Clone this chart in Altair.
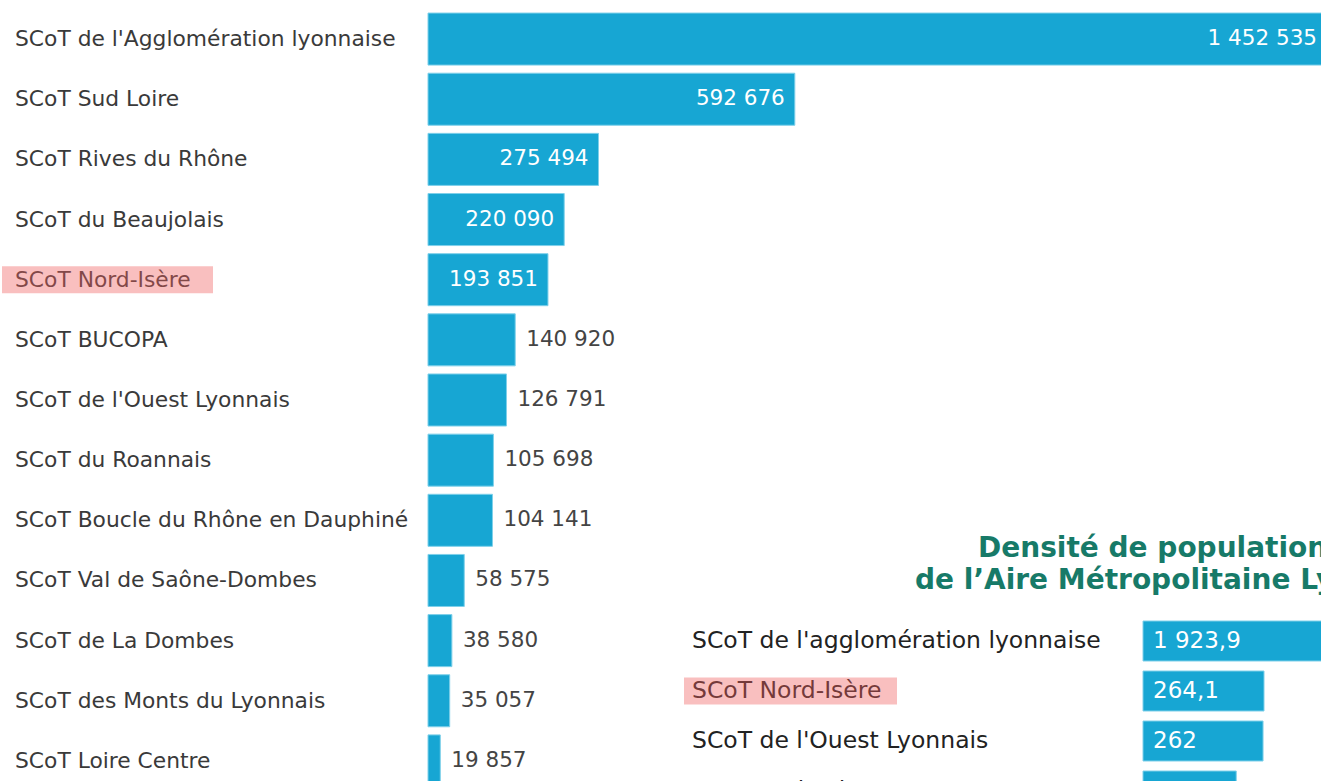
import altair as alt
import pandas as pd

# ---- data: chart 1 (population by SCoT) ----
cats1 = [
    "SCoT de l'Agglomération lyonnaise",
    "SCoT Sud Loire",
    "SCoT Rives du Rhône",
    "SCoT du Beaujolais",
    "SCoT Nord-Isère",
    "SCoT BUCOPA",
    "SCoT de l'Ouest Lyonnais",
    "SCoT du Roannais",
    "SCoT Boucle du Rhône en Dauphiné",
    "SCoT Val de Saône-Dombes",
    "SCoT de La Dombes",
    "SCoT des Monts du Lyonnais",
    "SCoT Loire Centre",
]
pop1 = [1452535, 592676, 275494, 220090, 193851, 140920, 126791,
        105698, 104141, 58575, 38580, 35057, 19857]

# ---- data: chart 2 (density) ----
cats2 = [
    "SCoT de l'agglomération lyonnaise",
    "SCoT Nord-Isère",
    "SCoT de l'Ouest Lyonnais",
    "SCoT Sud Loire",
]
dens2 = [1923.9, 264.1, 262.0, 203.5]
dens_labels2 = ["1 923,9", "264,1", "262", "203,5"]

title_lines = ["Densité de population des SCoT",
               "de l\u2019Aire Métropolitaine Lyon-Saint-Étienne"]
highlight = "SCoT Nord-Isère"

df1 = pd.DataFrame({
    "cat": cats1,
    "pop": pop1,
    "label": [f"{v:,}".replace(",", " ") for v in pop1],
})
df2 = pd.DataFrame({"cat": cats2, "dens": dens2, "label": dens_labels2})

BLUE = "#17a6d3"
F1 = "DejaVu Sans"
F2 = "DejaVu Sans"

x1 = alt.Scale(domain=[0, 1452535], range=[428, 1327], nice=False)
y1 = alt.Scale(domain=cats1, range=[9, 791], paddingInner=0.135, paddingOuter=0.0675)
x2 = alt.Scale(domain=[0, 1923.9], range=[1143, 2024.5], nice=False)
y2 = alt.Scale(domain=cats2, range=[616, 816], paddingInner=0.2, paddingOuter=0.1)

Y1 = alt.Y("cat:N", scale=y1, axis=None, sort=cats1)
Y2 = alt.Y("cat:N", scale=y2, axis=None, sort=cats2)

base1 = alt.Chart(df1)
base2 = alt.Chart(df2)

bars1 = base1.mark_bar(color=BLUE, stroke="#7fd0ea", strokeWidth=1).encode(
    x=alt.X("pop:Q", scale=x1, axis=None), y=Y1)
labels1 = base1.mark_text(align="left", baseline="middle", font=F1, fontSize=21.8,
                          color="#3a3a3a").encode(x=alt.value(15), y=Y1, text="cat:N")
vin1 = base1.transform_filter("datum.pop > 150000").mark_text(
    align="right", baseline="middle", dx=-10, font=F1, fontSize=21.5, color="white"
).encode(x=alt.X("pop:Q", scale=x1, axis=None), y=Y1, text="label:N")
vout1 = base1.transform_filter("datum.pop <= 150000").mark_text(
    align="left", baseline="middle", dx=11, font=F1, fontSize=21.5, color="#444444"
).encode(x=alt.X("pop:Q", scale=x1, axis=None), y=Y1, text="label:N")
hl1 = base1.transform_filter(alt.datum.cat == highlight).mark_bar(
    color="#f06060", opacity=0.4, size=27, orient="horizontal"
).encode(x=alt.value(2), x2=alt.value(213), y=Y1)

bars2 = base2.mark_bar(color=BLUE, stroke="#7fd0ea", strokeWidth=1).encode(
    x=alt.X("dens:Q", scale=x2, axis=None), y=Y2)
labels2 = base2.mark_text(align="left", baseline="middle", font=F2, fontSize=23.5,
                          color="#222222").encode(x=alt.value(692), y=Y2, text="cat:N")
vin2 = base2.mark_text(align="left", baseline="middle", dx=10, font=F2, fontSize=23,
                       color="white").encode(
    x=alt.XDatum(0, type="quantitative", scale=x2, axis=None), y=Y2, text="label:N")
hl2 = base2.transform_filter(alt.datum.cat == highlight).mark_bar(
    color="#f06060", opacity=0.4, size=27, orient="horizontal"
).encode(x=alt.value(684), x2=alt.value(897), y=Y2)

tdf1 = pd.DataFrame({"t": [title_lines[0]]})
tdf2 = pd.DataFrame({"t": [title_lines[1]]})
t1 = alt.Chart(tdf1).mark_text(align="left", baseline="alphabetic", font=F1,
                               fontSize=28, fontWeight="bold", color="#177a68").encode(
    x=alt.value(978), y=alt.value(557), text="t:N")
t2 = alt.Chart(tdf2).mark_text(align="left", baseline="alphabetic", font=F1,
                               fontSize=28, fontWeight="bold", color="#177a68").encode(
    x=alt.value(915), y=alt.value(589), text="t:N")

chart = alt.layer(
    bars1, labels1, vin1, vout1, hl1,
    bars2, labels2, vin2, hl2, t1, t2,
).resolve_scale(x="independent", y="independent").properties(
    width=1321, height=781,
    autosize=alt.AutoSizeParams(type="none"),
    padding=0,
    background="white",
).configure_view(stroke=None)

chart.save("out.html", embed_options={"renderer": "svg", "actions": False})
